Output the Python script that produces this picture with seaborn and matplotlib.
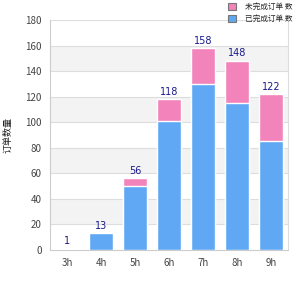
import pandas as pd
import matplotlib.pyplot as plt
import seaborn as sns
from matplotlib.patches import Patch

hours = ["3h", "4h", "5h", "6h", "7h", "8h", "9h"]
done = [1, 13, 50, 101, 130, 115, 85]
pending = [0, 0, 6, 17, 28, 33, 37]
totals = [1, 13, 56, 118, 158, 148, 122]

label_done = "已完成订单 数"
label_pending = "未完成订单 数"
y_label = "订单数量"

BLUE = "#60a8f4"
PINK = "#f283bb"


def main():
    df = pd.DataFrame({"hour": hours, "done": done, "pending": pending, "total": totals})

    sns.set_style("white")
    plt.rcParams["font.family"] = ["Noto Sans CJK SC", "DejaVu Sans"]

    fig = plt.figure(figsize=(3, 3), dpi=100)
    ax = fig.add_axes([50 / 300, 50 / 300, 238 / 300, 230 / 300])

    # alternating bands
    for lo in range(20, 180, 40):
        ax.axhspan(lo, lo + 20, color="#f3f3f3", zorder=0, lw=0)
    for y in range(20, 181, 20):
        ax.axhline(y, color="#dddddd", lw=0.8, zorder=0.5)

    sns.barplot(data=df, x="hour", y="total", color=PINK, saturation=1,
                width=0.73, ax=ax, zorder=2)
    sns.barplot(data=df, x="hour", y="done", color=BLUE, saturation=1,
                width=0.73, ax=ax, zorder=3)

    for i, t in enumerate(totals):
        ax.text(i, t + 2, str(t), ha="center", va="bottom", fontsize=7,
                color="#1a1a8c", family="DejaVu Sans", zorder=4)

    ax.set_ylim(0, 180)
    ax.set_xlim(-0.5, 6.5)
    ax.set_yticks(range(0, 181, 20))
    ax.tick_params(axis="both", labelsize=7, colors="#444444", length=0, pad=6)
    ax.set_xlabel("")
    ax.set_ylabel(y_label, fontsize=6.5, color="#222222", labelpad=9)
    ax.spines["top"].set_visible(False)
    ax.spines["left"].set_color("#cccccc")
    ax.spines["bottom"].set_color("#cccccc")
    ax.spines["right"].set_color("#dddddd")

    handles = [Patch(facecolor=PINK, edgecolor="#777777", lw=0.8, label=label_pending),
               Patch(facecolor=BLUE, edgecolor="#777777", lw=0.8, label=label_done)]
    ax.legend(handles=handles, loc="upper left", bbox_to_anchor=(225 / 300, 1.0),
              bbox_transform=fig.transFigure, frameon=False, fontsize=5.5,
              handlelength=1.0, handleheight=1.0, handletextpad=1.2,
              labelspacing=0.5, borderaxespad=0.0)

    fig.savefig("out.png", dpi=100)


if __name__ == "__main__":
    main()
